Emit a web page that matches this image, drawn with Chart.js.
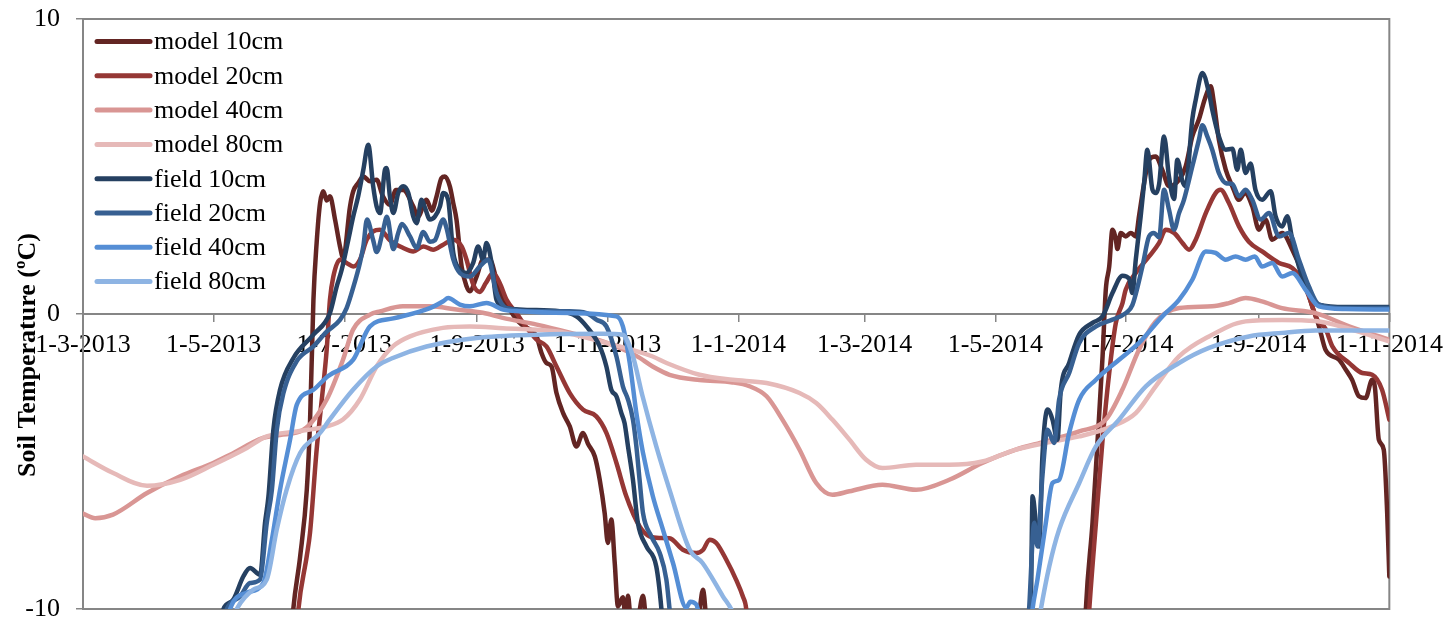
<!DOCTYPE html>
<html>
<head>
<meta charset="utf-8">
<script src="https://cdn.jsdelivr.net/npm/chart.js@4.4.1/dist/chart.umd.min.js"></script>
<style>
  html, body { margin: 0; padding: 0; background: #ffffff; }
  #wrap { width: 1452px; height: 623px; }
</style>
</head>
<body>
<div id="wrap"><canvas id="soilChart" width="1452" height="623"></canvas></div>
<script>
// Day offsets are counted from 1 March 2013.
const tickDays   = [0, 61, 122, 184, 245, 306, 365, 426, 487, 549, 610];
const tickLabels = ['1-3-2013', '1-5-2013', '1-7-2013', '1-9-2013', '1-11-2013', '1-1-2014',
                    '1-3-2014', '1-5-2014', '1-7-2014', '1-9-2014', '1-11-2014'];
const yTicks = [-10, 0, 10];

const seriesNames = ['model 10cm', 'model 20cm', 'model 40cm', 'model 80cm',
                     'field 10cm', 'field 20cm', 'field 40cm', 'field 80cm'];

// [day, soil temperature in °C]; a null temperature marks a break in the record.
const model10 = [[97.6,-10.6],[98.2,-10.0],[101.4,-8.22],[104.5,-5.96],[106.0,-3.7],[107.6,0.48],[109.1,2.41],[110.7,3.76],[112.2,4.16],[113.8,3.85],[115.3,3.99],[117.7,3.2],[120.0,2.29],[121.5,1.9],[124.7,3.65],[126.2,4.16],[128.5,4.44],[130.9,4.66],[134.0,4.5],[137.1,4.55],[140.0,4.0],[143.3,3.7],[146.1,4.2],[149.5,4.2],[154.2,3.65],[156.4,3.3],[160.4,3.87],[162.9,3.5],[165.1,3.99],[167.4,4.61],[169.0,4.66],[171.3,4.33],[172.9,3.76],[174.4,3.2],[176.8,1.61],[179.1,0.94],[180.6,0.77],[183.8,1.27],[186.8,1.84],[190.0,1.84],[193.1,1.16],[196.2,0.48],[199.3,0.15],[202.4,-0.19],[205.5,-0.4],[211.8,-0.76],[214.1,-1.32],[216.4,-1.66],[218.8,-1.78],[221.1,-2.68],[224.2,-3.36],[227.3,-3.81],[230.4,-4.49],[233.5,-4.03],[235.8,-4.4],[239.0,-4.83],[241.3,-5.62],[243.6,-6.75],[245.1,-7.76],[246.7,-6.97],[248.3,-8.44],[249.8,-9.91],[252.1,-9.6],[253.4,-10.3],[254.5,-9.55],[255.7,-10.3],[258.5,-10.5],[261.5,-9.55],[263.3,-10.5],[286.9,-10.5],[289.5,-9.35],[291.2,-10.5],[380,null],[468.0,-10.6],[468.3,-10.0],[471.4,-7.08],[473.8,-4.26],[476.1,-1.44],[477.6,0.82],[479.2,1.61],[480.7,2.86],[482.3,2.52],[483.0,2.2],[484.6,2.75],[486.9,2.63],[489.3,2.75],[491.6,2.63],[493.1,3.31],[495.5,4.44],[497.8,5.23],[500.9,5.34],[503.9,4.9],[507.1,4.33],[511.8,4.55],[514.9,5.0],[518.0,6.02],[521.1,6.6],[523.9,7.3],[526.6,7.72],[528.1,7.15],[530.4,5.91],[533.6,4.89],[536.7,4.33],[539.8,3.87],[542.6,4.1],[546.0,3.65],[549.1,2.86],[552.2,3.2],[555.3,2.52],[560.0,2.75],[564.7,2.18],[569.3,1.39],[574.0,0.26],[577.1,-0.4],[580.2,-1.21],[586.5,-1.55],[589.7,-1.89],[592.6,-2.23],[595.8,-2.79],[598.9,-2.85],[602.0,-2.23],[603.3,-2.5],[605.1,-4.26],[607.4,-4.6],[609.0,-6.75],[610.0,-8.9]];

const model20 = [[100.0,-10.6],[100.6,-10.0],[104.5,-8.2],[106.0,-7.42],[109.1,-4.6],[111.5,-2.9],[113.8,-1.21],[115.3,0.48],[116.9,1.27],[120.0,1.84],[123.1,1.73],[126.2,1.61],[129.3,1.84],[132.5,2.52],[135.5,2.8],[138.7,2.86],[143.3,2.5],[149.5,2.24],[154.2,2.12],[158.9,2.29],[163.5,2.18],[168.2,2.35],[172.9,2.52],[176.8,2.29],[179.1,1.84],[182.2,1.0],[185.3,0.75],[188.1,1.05],[191.5,1.39],[194.6,1.05],[197.8,0.48],[202.4,0.03],[205.5,-0.3],[211.8,-0.87],[216.4,-1.1],[221.1,-1.78],[227.3,-2.68],[233.5,-3.24],[239.7,-3.47],[244.4,-4.03],[249.1,-5.05],[253.7,-6.18],[259.9,-7.2],[264.6,-7.54],[269.3,-7.59],[273.9,-7.6],[280.1,-7.99],[286.4,-8.1],[289.5,-8.0],[292.6,-7.65],[295.7,-7.76],[300.4,-8.33],[305.0,-9.01],[308.1,-9.57],[309.7,-10.0],[310.3,-10.6],[390,null],[469.4,-10.6],[469.9,-10.0],[473.0,-7.08],[476.1,-4.26],[479.2,-2.0],[482.3,-0.3],[485.4,0.37],[486.9,0.82],[491.6,1.39],[497.8,1.95],[502.5,2.41],[505.6,2.86],[509.5,2.75],[513.4,2.41],[516.5,2.18],[519.6,2.52],[524.3,3.42],[528.9,4.1],[531.2,4.21],[535.1,3.76],[539.8,2.97],[544.4,2.45],[550.6,2.12],[558.5,1.73],[564.7,1.56],[569.3,1.16],[572.4,0.6],[576.4,-0.2],[580.2,-0.5],[583.4,-1.1],[591.2,-1.66],[597.4,-2.0],[602.0,-2.06],[606.6,-2.57],[610.0,-3.58]];

const model40 = [[0,-6.77],[5.7,-6.92],[14.0,-6.8],[29.9,-6.07],[45.4,-5.5],[60.8,-5.05],[68.7,-4.77],[84.1,-4.2],[92.0,-4.1],[102.8,-3.93],[113.8,-2.9],[121.4,-1.55],[126.1,-0.53],[134.0,-0.02],[138.7,0.09],[149.4,0.26],[162.0,0.26],[174.4,0.15],[186.7,0.04],[196.0,-0.13],[211.9,-0.36],[227.3,-0.63],[242.7,-0.93],[258.4,-1.42],[266.0,-1.78],[273.9,-2.06],[287.9,-2.24],[303.3,-2.32],[311.2,-2.45],[319.2,-2.79],[326.6,-3.58],[334.6,-4.6],[342.4,-5.73],[349.9,-6.13],[357.9,-6.01],[373.3,-5.79],[389.0,-5.96],[404.5,-5.62],[419.9,-5.05],[435.6,-4.6],[449.6,-4.32],[465.2,-3.98],[477.6,-3.58],[485.3,-2.57],[493.1,-1.21],[500.9,-0.25],[511.8,0.2],[527.2,0.26],[535.1,0.37],[542.9,0.54],[550.5,0.43],[559.9,0.2],[575.6,0.03],[591.2,-0.42],[610.0,-0.87]];

const model80 = [[0,-4.83],[14.1,-5.39],[29.9,-5.82],[45.4,-5.62],[60.8,-5.11],[76.5,-4.54],[85.8,-4.15],[99.8,-3.98],[113.8,-3.81],[121.4,-3.58],[129.3,-2.9],[137.1,-1.78],[144.7,-1.1],[152.7,-0.76],[168.0,-0.47],[180.6,-0.42],[196.0,-0.48],[222.6,-0.6],[242.7,-0.95],[266.0,-1.44],[272.5,-1.66],[287.9,-2.06],[303.3,-2.23],[319.2,-2.34],[334.6,-2.68],[342.4,-3.02],[349.9,-3.58],[357.9,-4.26],[365.7,-4.94],[373.3,-5.22],[389.0,-5.11],[404.5,-5.11],[419.9,-5.0],[435.6,-4.6],[449.6,-4.37],[465.2,-4.15],[480.6,-3.81],[491.6,-3.36],[500.9,-2.45],[511.8,-1.44],[525.8,-0.76],[542.9,-0.25],[559.9,-0.2],[575.6,-0.24],[591.2,-0.5],[610.0,-0.93]];

const field10 = [[63.6,-10.6],[65.6,-10.0],[70.2,-9.68],[74.9,-8.89],[78.0,-8.61],[82.7,-8.84],[85.0,-7.08],[86.6,-6.18],[88.9,-3.92],[92.0,-2.57],[98.2,-1.5],[107.6,-0.7],[115.3,0.03],[118.5,0.94],[120.8,1.5],[123.9,2.52],[126.2,3.31],[128.5,3.99],[130.9,4.89],[133.2,5.74],[135.5,4.33],[137.1,3.65],[138.7,3.42],[141.0,4.89],[141.8,4.95],[143.3,3.99],[144.9,3.42],[147.2,4.1],[149.5,4.33],[151.9,4.1],[154.2,3.31],[155.8,3.08],[158.1,3.87],[159.7,3.6],[162.0,3.2],[164.3,3.3],[166.7,3.65],[168.2,4.1],[170.5,3.87],[172.9,2.07],[176.0,1.5],[179.1,1.39],[182.2,1.73],[184.5,2.29],[186.8,1.84],[188.4,2.41],[190.8,1.73],[193.1,0.48],[197.8,0.2],[222.6,0.09],[230.4,-0.08],[235.1,-0.42],[241.3,-1.1],[244.4,-1.78],[246.7,-2.57],[249.1,-2.79],[251.4,-3.36],[252.9,-3.7],[254.5,-4.49],[256.8,-5.62],[259.1,-7.08],[263.1,-7.88],[267.7,-8.56],[270.1,-10.0],[270.7,-10.6],[350,null],[441.8,-10.8],[442.6,-10.0],[443.4,-6.18],[445.0,-7.08],[446.5,-7.88],[448.0,-4.83],[450.4,-3.24],[452.7,-3.58],[455.0,-4.26],[456.6,-2.57],[460.5,-1.66],[465.2,-0.7],[471.4,-0.3],[476.1,-0.08],[480.7,0.71],[485.4,1.3],[488.5,1.2],[490.0,0.71],[491.6,1.84],[493.9,3.31],[495.5,4.44],[497.0,5.57],[499.4,4.21],[501.0,4.1],[502.5,4.4],[504.8,6.02],[507.1,4.66],[509.5,3.9],[511.0,5.23],[513.4,4.5],[514.9,4.33],[518.0,6.6],[519.6,7.26],[522.7,8.17],[525.8,7.49],[527.3,6.93],[530.4,6.02],[533.6,5.57],[536.7,5.6],[539.0,4.89],[540.6,5.57],[542.9,4.78],[545.2,5.1],[547.5,4.21],[550.6,3.87],[554.6,4.16],[556.9,3.31],[560.0,2.97],[562.3,3.31],[564.7,2.52],[567.8,1.61],[572.4,0.71],[577.1,0.32],[589.7,0.24],[610.0,0.24]];

const field20 = [[65.0,-10.6],[67.2,-10.0],[73.4,-9.57],[78.0,-9.12],[82.7,-9.0],[85.8,-7.08],[88.2,-5.96],[90.5,-3.92],[93.6,-2.68],[99.8,-1.6],[107.6,-1.1],[113.8,-0.6],[120.0,-0.2],[123.1,0.2],[126.2,0.9],[129.3,1.73],[130.9,2.29],[132.6,3.2],[135.5,2.5],[137.1,2.1],[140.2,2.86],[141.9,3.3],[144.9,2.2],[147.2,2.75],[148.9,3.05],[152.7,2.63],[155.8,2.24],[158.9,2.78],[162.0,2.45],[164.3,2.5],[168.2,3.2],[169.8,2.9],[172.9,1.85],[176.0,1.39],[180.6,1.27],[185.3,1.61],[189.2,1.84],[193.1,0.71],[197.8,0.2],[211.8,0.09],[227.3,0.09],[235.1,0.03],[239.7,-0.19],[244.4,-0.42],[249.1,-1.44],[252.1,-2.45],[254.5,-2.9],[256.8,-3.58],[258.4,-4.49],[259.9,-5.62],[261.5,-6.75],[265.4,-7.54],[269.3,-8.1],[272.4,-9.0],[273.9,-10.0],[274.8,-10.6],[350,null],[441.0,-10.8],[441.8,-10.0],[444.2,-7.08],[445.7,-7.88],[448.0,-5.5],[450.4,-3.92],[453.5,-4.37],[455.8,-2.9],[460.5,-2.0],[465.2,-0.98],[473.0,-0.42],[480.7,-0.19],[486.9,0.03],[490.0,0.3],[494.7,1.61],[497.8,2.63],[500.1,2.75],[502.5,2.6],[504.8,4.21],[507.1,3.54],[509.5,2.86],[511.8,3.42],[514.1,3.87],[518.0,5.0],[521.1,5.91],[522.7,6.4],[525.0,6.02],[527.3,5.57],[530.4,4.78],[533.6,4.44],[536.7,4.4],[539.8,3.99],[542.9,4.21],[546.0,3.87],[549.9,3.2],[553.8,3.42],[558.5,2.63],[563.1,2.75],[567.8,1.84],[572.4,0.94],[577.1,0.32],[589.7,0.2],[610.0,0.2]];

const field40 = [[66.9,-10.6],[68.7,-10.0],[76.5,-9.45],[84.2,-9.12],[88.2,-7.65],[92.0,-5.96],[96.7,-4.26],[99.8,-3.08],[107.6,-2.57],[114.5,-2.1],[126.2,-1.55],[134.0,-0.42],[144.9,-0.15],[162.0,0.2],[168.2,0.43],[170.5,0.54],[176.0,0.32],[180.6,0.26],[188.4,0.37],[196.2,0.15],[204.0,0.09],[227.3,0.03],[249.1,-0.08],[252.1,-0.42],[255.3,-1.66],[258.4,-3.36],[261.5,-4.71],[266.1,-6.18],[270.8,-7.31],[275.5,-8.44],[281.7,-9.95],[283.6,-9.75],[286.4,-9.85],[287.9,-10.3],[288.5,-10.6],[350,null],[442.3,-10.8],[443.4,-10.0],[445.7,-9.0],[449.6,-7.08],[452.7,-5.73],[455.8,-5.62],[460.5,-4.03],[465.2,-2.9],[473.0,-2.23],[483.8,-1.55],[493.1,-0.98],[504.0,-0.08],[511.8,0.48],[518.0,1.16],[524.3,2.12],[528.9,2.07],[533.6,1.84],[538.2,1.95],[542.9,1.84],[547.2,1.95],[550.6,1.61],[555.3,1.73],[560.0,1.27],[564.7,1.39],[570.9,0.82],[577.1,0.26],[589.7,0.17],[610.0,0.15]];

const field80 = [[68.7,-10.6],[71.8,-10.0],[79.4,-9.35],[85.8,-9.0],[90.5,-7.3],[95.1,-5.95],[101.4,-4.71],[110.7,-4.03],[115.0,-3.6],[126.1,-2.57],[137.1,-1.78],[144.7,-1.49],[160.4,-1.1],[183.8,-0.81],[211.8,-0.7],[242.7,-0.67],[252.0,-0.7],[256.8,-1.44],[261.3,-2.79],[267.7,-4.49],[273.9,-5.96],[283.3,-7.99],[289.3,-8.44],[298.8,-9.57],[303.3,-10.1],[305.5,-10.6],[370,null],[445.5,-10.8],[447.3,-10.0],[451.2,-8.56],[455.8,-7.31],[465.2,-5.73],[473.0,-4.49],[483.8,-3.58],[496.3,-2.45],[511.8,-1.66],[525.8,-1.15],[544.4,-0.76],[559.9,-0.64],[575.6,-0.56],[610.0,-0.56]];

const seriesData   = [model10, model20, model40, model80, field10, field20, field40, field80];
const seriesColors = ['#632523', '#953735', '#D99694', '#E6B9B8', '#254061', '#376092', '#558ED5', '#8EB4E3'];

const serif = "'Liberation Serif', 'Times New Roman', serif";
const axisGray = '#868686';

const datasets = seriesData.map((rows, i) => ({
  label: seriesNames[i],
  data: rows.map(([d, t]) => ({ x: d, y: t })),
  borderColor: seriesColors[i],
  backgroundColor: seriesColors[i],
  borderWidth: 4.5,
  borderCapStyle: 'round',
  borderJoinStyle: 'round',
  pointRadius: 0,
  cubicInterpolationMode: 'monotone',
  spanGaps: false,
  clip: 0,
  order: seriesData.length - i   // later series are painted over earlier ones
}));

// Plot frame, in-plot legend and rotated axis title.
const decorations = {
  id: 'decorations',
  beforeDatasetsDraw(chart) {
    const { ctx, chartArea: a } = chart;
    ctx.save();
    ctx.strokeStyle = axisGray;
    ctx.lineWidth = 2;
    ctx.strokeRect(a.left, a.top, a.right - a.left, a.bottom - a.top);
    ctx.restore();
  },
  afterDatasetsDraw(chart) {
    const { ctx, chartArea: a } = chart;
    ctx.save();
    ctx.font = '26px ' + serif;
    ctx.textBaseline = 'middle';
    ctx.textAlign = 'left';
    chart.data.datasets.forEach((ds, i) => {
      const y = a.top + 22.5 + i * 34.3;
      ctx.strokeStyle = ds.borderColor;
      ctx.lineWidth = 5;
      ctx.lineCap = 'round';
      ctx.beginPath();
      ctx.moveTo(a.left + 14, y);
      ctx.lineTo(a.left + 67, y);
      ctx.stroke();
      ctx.fillStyle = '#000000';
      ctx.fillText(ds.label, a.left + 71, y + 1);
    });
    ctx.restore();
  },
  afterDraw(chart) {
    const { ctx } = chart;
    ctx.save();
    ctx.translate(28, 355);
    ctx.rotate(-Math.PI / 2);
    ctx.font = 'bold 26px ' + serif;
    ctx.fillStyle = '#000000';
    ctx.textAlign = 'center';
    ctx.textBaseline = 'middle';
    ctx.fillText('Soil Temperature (ºC)', 0, 0);
    ctx.restore();
  }
};

new Chart(document.getElementById('soilChart'), {
  type: 'line',
  data: { datasets },
  options: {
    responsive: false,
    devicePixelRatio: 1,
    animation: false,
    layout: { padding: { left: 0, top: 19, right: 61, bottom: 14 } },
    plugins: { legend: { display: false }, tooltip: { enabled: false } },
    scales: {
      x: {
        type: 'linear',
        min: tickDays[0],
        max: tickDays[tickDays.length - 1],
        position: { y: 0 },
        afterBuildTicks: (scale) => { scale.ticks = tickDays.map(v => ({ value: v })); },
        ticks: {
          autoSkip: false,
          maxRotation: 0,
          padding: 9,
          color: '#000000',
          font: { family: serif, size: 26 },
          callback: (v) => tickLabels[tickDays.indexOf(v)]
        },
        grid: { drawOnChartArea: false, drawTicks: true, tickLength: 7, color: axisGray, lineWidth: 1.5 },
        border: { display: true, color: axisGray, width: 2 }
      },
      y: {
        min: -10,
        max: 10,
        afterBuildTicks: (scale) => { scale.ticks = yTicks.map(v => ({ value: v })); },
        afterFit: (scale) => {
          scale.width = 83;
          // the end labels may overhang the plot; keep the plot edges fixed
          scale.paddingTop = 0;
          scale.paddingBottom = 0;
        },
        ticks: {
          padding: 16,
          color: '#000000',
          font: { family: serif, size: 26 },
          callback: (v) => String(v)
        },
        grid: { drawOnChartArea: false, drawTicks: true, tickLength: 7, color: axisGray, lineWidth: 1.5 },
        border: { display: true, color: axisGray, width: 2 }
      }
    }
  },
  plugins: [decorations]
});
</script>
</body>
</html>
